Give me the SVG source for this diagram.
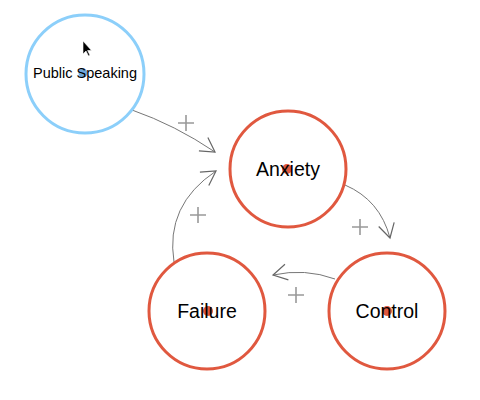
<svg xmlns="http://www.w3.org/2000/svg" width="480" height="400" viewBox="0 0 480 400">
<defs>
<marker id="arr" viewBox="0 0 20 20" refX="18" refY="10" markerWidth="20" markerHeight="20" markerUnits="userSpaceOnUse" orient="auto">
<path d="M4,2 L18,10 L4,18" fill="none" stroke="#666" stroke-width="1.2"/>
</marker>
</defs>
<style>
.node{fill:#fff;stroke:#e0583f;stroke-width:3}
.blue{fill:#fff;stroke:#8ccffa;stroke-width:3}
.lbl{font-family:"Liberation Sans",Arial,sans-serif;fill:#000;text-anchor:middle}
.edge{fill:none;stroke:#777;stroke-width:1}
.plus{stroke:#999;stroke-width:1.6}
</style>
<rect width="480" height="400" fill="#fff"/>
<g id="connectors">
<path class="edge" d="M132,110 Q175,125 215,152" marker-end="url(#arr)"/>
<path class="edge" d="M174,262 Q165,205 216,171" marker-end="url(#arr)"/>
<path class="edge" d="M345,185 Q380,200 390,238" marker-end="url(#arr)"/>
<path class="edge" d="M335,279 Q305,268 273,275" marker-end="url(#arr)"/>
<g class="plus">
<path d="M178,123 H194 M186,115 V131"/>
<path d="M190,215 H206 M198,207 V223"/>
<path d="M352,227 H368 M360,219 V235"/>
<path d="M288,295 H304 M296,287 V303"/>
</g>
</g>
<g id="public-speaking">
<circle class="blue" cx="85" cy="74" r="59"/>
<circle cx="83" cy="73" r="4.5" fill="#6fa8dc"/>
<text class="lbl" x="85" y="78" font-size="14.5">Public Speaking</text>
</g>
<g id="anxiety">
<circle class="node" cx="288" cy="169" r="58"/>
<circle cx="287" cy="169" r="5" fill="#e0583f"/>
<text class="lbl" x="288" y="176" font-size="19.5">Anxiety</text>
</g>
<g id="failure">
<circle class="node" cx="207" cy="311" r="58"/>
<circle cx="208" cy="311" r="5" fill="#e0583f"/>
<text class="lbl" x="207" y="318" font-size="19.5">Failure</text>
</g>
<g id="control">
<circle class="node" cx="387" cy="311" r="58"/>
<circle cx="387" cy="311" r="5" fill="#e0583f"/>
<text class="lbl" x="387" y="318" font-size="19.5">Control</text>
</g>
<path d="M83,41 L83,54 L86,51 L88.5,56 L90,55.3 L87.6,50.5 L91.5,50.5 Z" fill="#000" stroke="#fff" stroke-width="0.6"/>
</svg>
